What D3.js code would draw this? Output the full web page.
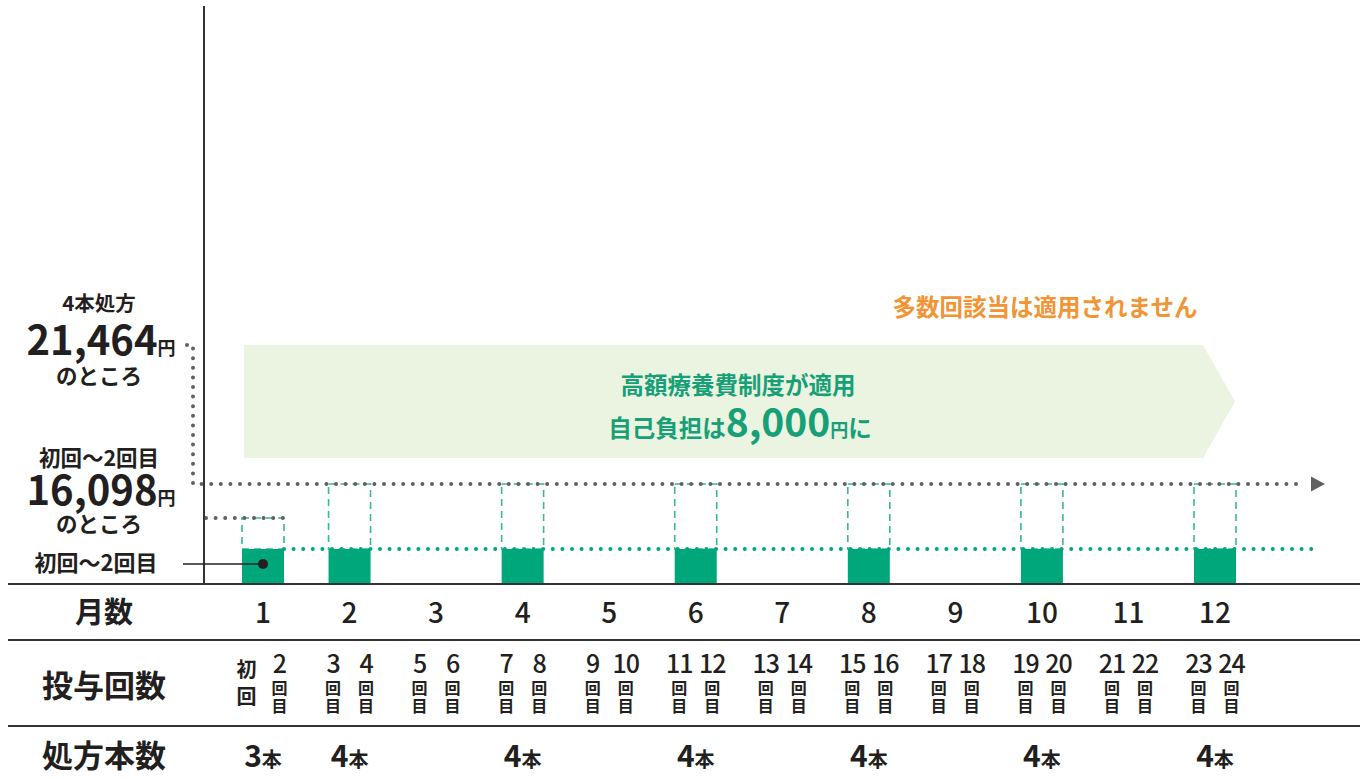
<!DOCTYPE html>
<html lang="ja">
<head>
<meta charset="utf-8">
<script src="https://cdn.jsdelivr.net/npm/d3@7"></script>
<style>
  html, body { margin: 0; padding: 0; background: #fff; }
  svg { display: block; font-family: "Noto Sans CJK JP", "Noto Sans", sans-serif; }
</style>
</head>
<body>
<svg id="chart" width="1360" height="779"></svg>
<script>
// ---- data ----
const months = [1, 2, 3, 4, 5, 6, 7, 8, 9, 10, 11, 12];
const prescriptionMonths = [1, 2, 4, 6, 8, 10, 12];
const bottleCounts = [3, 4, 4, 4, 4, 4, 4];
// cost levels (yen): capped burden, first two doses, 4-bottle prescription
const burdenCap = 8000;
const firstCost = 16098;
const fullCost = 21464;
const originalCosts = [16098, 21464, 21464, 21464, 21464, 21464, 21464];
const rowLabels = ["月数", "投与回数", "処方本数"];

// ---- scales ----
const svg = d3.select("#chart");
const x = d3.scaleLinear().domain([1, 12]).range([263, 1215]);
// schematic (non-uniform) money axis
const y = d3.scaleLinear()
  .domain([0, burdenCap, firstCost, fullCost])
  .range([584, 549, 518, 484]);
const barW = 42;

const ink = "#231f20";
const green = "#00a77b";
const dashGreen = "#37b98c";
const grey = "#606062";

// banner: high-cost medical care benefit applies
const bx0 = 244, bx1 = 1203, btip = 1235, by0 = 345, by1 = 458;
svg.append("path")
  .attr("d", `M${bx0},${by0}H${bx1}L${btip},${(by0 + by1) / 2}L${bx1},${by1}H${bx0}Z`)
  .attr("fill", "#eaf4e1");

const bannerText = svg.append("text").attr("text-anchor", "middle")
  .attr("fill", "#17a077").attr("font-weight", 700);
bannerText.append("tspan").attr("x", 738).attr("y", 394)
  .attr("font-size", 23.5).text("高額療養費制度が適用");
bannerText.append("tspan").attr("x", 740).attr("y", 437)
  .attr("font-size", 23.5).text("自己負担は");
bannerText.append("tspan").attr("font-size", 39).text(d3.format(",")(burdenCap));
bannerText.append("tspan").attr("font-size", 18).text("円");
bannerText.append("tspan").attr("font-size", 23.5).text("に");

svg.append("text").attr("x", 1045).attr("y", 316).attr("text-anchor", "middle")
  .attr("fill", "#f29434").attr("font-size", 23.5).attr("font-weight", 700)
  .text("多数回該当は適用されません");

// dashed outlines showing the original cost above each bar
svg.selectAll("rect.orig").data(prescriptionMonths).join("rect")
  .attr("class", "orig")
  .attr("x", d => x(d) - barW / 2)
  .attr("y", (d, i) => y(originalCosts[i]))
  .attr("width", barW)
  .attr("height", (d, i) => y(burdenCap) - y(originalCosts[i]))
  .attr("fill", "none").attr("stroke", dashGreen)
  .attr("stroke-width", 1.6).attr("stroke-dasharray", "7 5");

// bars: monthly self-payment
svg.selectAll("rect.bar").data(prescriptionMonths).join("rect")
  .attr("class", "bar")
  .attr("x", d => x(d) - barW / 2)
  .attr("y", y(burdenCap))
  .attr("width", barW)
  .attr("height", y(0) - y(burdenCap))
  .attr("fill", green);

// dotted reference lines
const dotted = (sel, color) => sel.attr("fill", "none").attr("stroke", color)
  .attr("stroke-width", 4).attr("stroke-linecap", "round").attr("stroke-dasharray", "0 9.6");

dotted(svg.append("path").attr("d", `M${x(1) + barW / 2},${y(burdenCap)}H1316`), green);
dotted(svg.append("path").attr("d", `M206,${y(firstCost)}H${x(1) + barW / 2}`), grey);
dotted(svg.append("path").attr("d", `M187,345H193V${y(fullCost)}H1304`), grey);
svg.append("path")
  .attr("d", `M1311,${y(fullCost) - 7.5}L1325,${y(fullCost)}L1311,${y(fullCost) + 7.5}Z`)
  .attr("fill", grey);

// axes lines
svg.append("line").attr("x1", 204).attr("x2", 204).attr("y1", 6).attr("y2", 585)
  .attr("stroke", "#333").attr("stroke-width", 2);
svg.append("line").attr("x1", 8).attr("x2", 1360).attr("y1", y(0)).attr("y2", y(0))
  .attr("stroke", "#333").attr("stroke-width", 2.2);
[640, 726].forEach(ly => svg.append("line").attr("x1", 8).attr("x2", 1360)
  .attr("y1", ly).attr("y2", ly).attr("stroke", "#333").attr("stroke-width", 1.8));

// pointer to the first bar
svg.append("line").attr("x1", 183).attr("x2", x(1)).attr("y1", 564).attr("y2", 564)
  .attr("stroke", ink).attr("stroke-width", 1.5);
svg.append("circle").attr("cx", x(1)).attr("cy", 564).attr("r", 5).attr("fill", ink);

// left annotations (each block is one text element)
const lx = 99;
const block = (lines) => {
  const t = svg.append("text").attr("text-anchor", "middle").attr("fill", ink)
    .attr("font-weight", 700);
  lines.forEach(l => l.forEach((part, j) => {
    const s = t.append("tspan").attr("font-size", part.size).text(part.text);
    if (j === 0) s.attr("x", lx + (part.dx || 0)).attr("y", part.y);
  }));
};
block([
  [{ y: 311, size: 20.5, text: "4本処方" }],
  [{ y: 355, size: 40, text: d3.format(",")(fullCost), dx: 2 }, { size: 18, text: "円" }],
  [{ y: 384, size: 21.5, text: "のところ" }]
]);
block([
  [{ y: 466, size: 21.5, text: "初回～2回目" }],
  [{ y: 505, size: 40, text: d3.format(",")(firstCost), dx: 2 }, { size: 18, text: "円" }],
  [{ y: 532, size: 21.5, text: "のところ" }]
]);
svg.append("text").attr("x", 96).attr("y", 571).attr("text-anchor", "middle")
  .attr("fill", ink).attr("font-size", 22).attr("font-weight", 700).text("初回～2回目");

// table row headers
const rowY = [623, 697, 767];
svg.selectAll("text.row").data(rowLabels).join("text")
  .attr("class", "row")
  .attr("x", 104).attr("y", (d, i) => rowY[i])
  .attr("text-anchor", "middle").attr("fill", ink)
  .attr("font-size", (d, i) => i === 0 ? 29 : 31).attr("font-weight", 700)
  .text(d => d);

// month numbers
svg.selectAll("text.month").data(months).join("text")
  .attr("class", "month")
  .attr("x", d => x(d)).attr("y", 623)
  .attr("text-anchor", "middle").attr("fill", ink)
  .attr("font-size", 28).attr("font-weight", 500)
  .text(d => d);

// dose numbers: two per month, each a single stacked text
const doses = months.flatMap(m => [
  { dose: 2 * m - 1, cx: x(m) - 16.5 },
  { dose: 2 * m, cx: x(m) + 16.5 }
]);
svg.selectAll("text.dose").data(doses).join("text")
  .attr("class", "dose")
  .attr("text-anchor", "middle").attr("fill", ink)
  .each(function (d) {
    const t = d3.select(this);
    if (d.dose === 1) {
      t.append("tspan").attr("x", d.cx).attr("y", 677)
        .attr("font-size", 20).attr("font-weight", 700).text("初");
      t.append("tspan").attr("x", d.cx).attr("y", 704)
        .attr("font-size", 20).attr("font-weight", 700).text("回");
    } else {
      t.append("tspan").attr("x", d.cx).attr("y", 673)
        .attr("font-size", 25).attr("font-weight", 500).attr("letter-spacing", -1).text(d.dose);
      t.append("tspan").attr("x", d.cx).attr("y", 694)
        .attr("font-size", 16).attr("font-weight", 700).text("回");
      t.append("tspan").attr("x", d.cx).attr("y", 712)
        .attr("font-size", 16).attr("font-weight", 700).text("目");
    }
  });

// bottles per prescription
const bt = svg.selectAll("text.bottle").data(prescriptionMonths).join("text")
  .attr("class", "bottle")
  .attr("x", d => x(d)).attr("y", 767)
  .attr("text-anchor", "middle").attr("fill", ink).attr("font-weight", 700);
bt.append("tspan").attr("font-size", 30).text((d, i) => bottleCounts[i]);
bt.append("tspan").attr("font-size", 20).text("本");
</script>
</body>
</html>
